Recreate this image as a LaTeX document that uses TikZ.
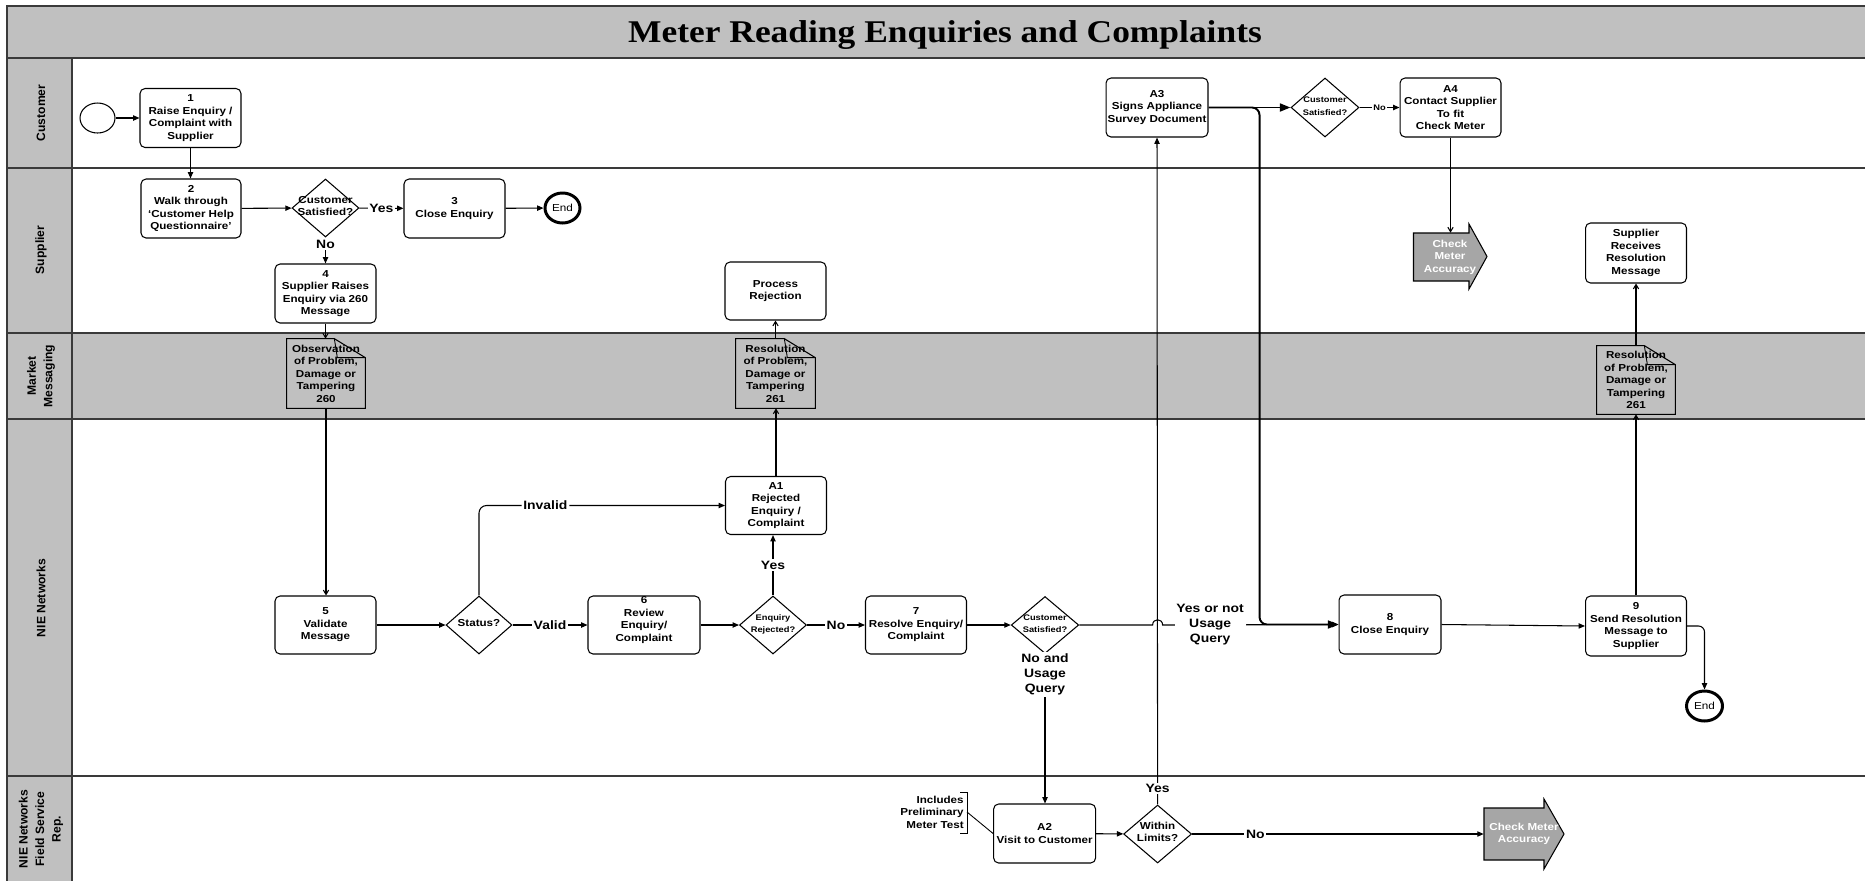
\documentclass[tikz,border=0pt]{standalone}
\usepackage{fontspec}
\setmainfont{Liberation Serif}
\newfontfamily\sfs[FakeStretch=1.15]{Liberation Sans}
\newfontfamily\sfn{Liberation Sans}
\newfontfamily\rms[FakeStretch=1.12]{Liberation Serif}
\usetikzlibrary{shapes.geometric,arrows.meta,calc}
\definecolor{lanegray}{HTML}{C0C0C0}
\definecolor{lanec}{HTML}{3A3A3A}
\definecolor{arrowgray}{HTML}{A6A6A6}
\newcommand\boxf{\sfs\bfseries\fontsize{5.75}{7.1}\selectfont}
\newcommand\smallf{\sfs\bfseries\fontsize{4.6}{5.2}\selectfont}
\newcommand\lblf{\sfs\bfseries\fontsize{6.9}{8.5}\selectfont}
\newcommand\lanef{\sfn\bfseries\fontsize{6.9}{9.4}\selectfont}
\newcommand\finfnt{\sfs\fontsize{5.8}{7}\selectfont}
\newcommand\titlef{\rms\bfseries\fontsize{18}{20}\selectfont}
\newcommand\dtext[1]{\smash{\makebox[0pt]{\raisebox{-0.3ex}{\begin{tabular}{@{}c@{}}#1\end{tabular}}}}}
\tikzset{
  lane/.style={draw=lanec, line width=1.1pt},
  box/.style={draw, rounded corners=0.1cm, fill=white, align=center, font=\boxf, inner sep=0pt, minimum width=2.02cm, minimum height=1.18cm, line width=0.6pt},
  dia/.style={diamond, draw, fill=white, inner sep=0pt, font=\boxf, minimum width=1.34cm, minimum height=1.16cm, line width=0.6pt},
  docn/.style={rectangle, fill=lanegray, align=center, font=\boxf, inner sep=0pt, minimum width=1.56cm, minimum height=1.38cm},
  docline/.style={draw, line width=0.6pt},
  circ/.style={ellipse, draw, fill=white, inner sep=0pt, minimum width=0.7cm, minimum height=0.6cm, font=\finfnt, line width=0.6pt},
  endc/.style={circ, line width=1.7pt},
  lanel/.style={rotate=90, font=\lanef, align=center},
  lbl/.style={font=\lblf, fill=white, inner sep=1pt, align=center},
  lbls/.style={font=\smallf, fill=white, inner sep=0.5pt},
  arr/.style={-{Triangle[length=3.6pt,width=3pt]}, line width=0.6pt},
  oarr/.style={-{Straight Barb[length=2.5pt,width=3pt]}, line width=0.6pt},
  tarr/.style={-{Triangle[length=6pt,width=4.5pt]}, line width=1.1pt},
  cmat/.style={font=\boxf, text=white, align=center, inner sep=0pt},
  bigarrow/.style={fill=arrowgray, draw, line width=0.6pt},
  fold/.style={line width=0.5pt},
}
\begin{document}
\begin{tikzpicture}[x=0.02cm,y=-0.02cm]
\useasboundingbox (0,0) rectangle (1865,880);
\clip (0,0) rectangle (1865,880);
% lanes
\fill[white] (0,0) rectangle (1865,880);
\fill[lanegray] (7,6) rectangle (1885,58);
\fill[lanegray] (7,58) rectangle (72,890);
\fill[lanegray] (72,333) rectangle (1885,419);
\draw[lane] (7,890) -- (7,6) -- (1885,6);
\draw[lane] (7,58) -- (1885,58);
\draw[lane] (7,168) -- (1885,168);
\draw[lane] (7,333) -- (1885,333);
\draw[lane] (7,419) -- (1885,419);
\draw[lane] (7,776) -- (1885,776);
\draw[lane] (72,58) -- (72,890);
\node[font=\titlef, anchor=base] (title) at (945,42.5) {Meter Reading Enquiries and Complaints};
\node[lanel] (lcust) at (41,113) {Customer};
\node[lanel] (lsupp) at (41,250) {Supplier};
\node[lanel] (lmkt) at (41,376) {Market\\Messaging};
\node[lanel] (lnie) at (41,598) {NIE Networks};
\node[lanel] (lfsr) at (41,829) {NIE Networks\\Field Service\\Rep.};

% Customer lane
\node[circ] (start) at (97.5,118) {};
\node[box] (b1) at (190.5,118) {1\\Raise Enquiry /\\Complaint with\\Supplier};
\node[box, minimum width=2.04cm] (a3) at (1157,107.5) {A3\\Signs Appliance\\Survey Document};
\node[dia, minimum width=1.36cm, minimum height=1.18cm] (cs2) at (1325,107.5) {\dtext{\smallf Customer\\\smallf Satisfied?}};
\node[box] (a4) at (1450.5,107.5) {A4\\Contact Supplier\\To fit\\Check Meter};

% Supplier lane
\node[box, minimum width=2cm] (b2) at (191,208.5) {2\\Walk through\\‘Customer Help\\Questionnaire’};
\node[dia] (sd1) at (325.5,208) {\dtext{Customer\\Satisfied?}};
\node[box] (b3) at (454.5,208.5) {3\\Close Enquiry};
\node[endc] (end1) at (562.5,208) {End};
\node[box] (b4) at (325.5,293.5) {4\\Supplier Raises\\Enquiry via 260\\Message};
\node[box, minimum height=1.16cm] (pr) at (775.5,291) {Process\\Rejection};
\draw[bigarrow] (1413.5,233) -- (1469,233) -- (1469,224) -- (1487,256.5) -- (1469,289) -- (1469,281) -- (1413.5,281) -- cycle;
\node[cmat, minimum width=1.46cm, minimum height=0.96cm] (cma1) at (1450,257) {Check\\Meter\\Accuracy};
\node[box, minimum height=1.2cm] (srm) at (1636,253) {Supplier\\Receives\\Resolution\\Message};

% Market messaging
\node[docn] (d260) at (326,373.5) {Observation\\of Problem,\\Damage or\\Tampering\\260};
\node[docn, minimum width=1.58cm] (d261a) at (775.5,373.5) {Resolution\\of Problem,\\Damage or\\Tampering\\261};
\node[docn, minimum height=1.36cm] (d261b) at (1636,380) {Resolution\\of Problem,\\Damage or\\Tampering\\261};
\foreach \d in {d260,d261a,d261b}{
  \draw[docline] (\d.north west) -- ($(\d.north east)+(-31,0)$) -- ($(\d.north east)+(0,19)$) -- (\d.south east) -- (\d.south west) -- cycle;
  \draw[fold] ($(\d.north east)+(-31,0)$) -- ++(3,19) -- ($(\d.north east)+(0,19)$);
}

% NIE Networks lane
\node[box, minimum height=1.16cm] (a1) at (776,505.5) {A1\\Rejected\\Enquiry /\\Complaint};
\node[box, minimum height=1.16cm] (b5) at (325.5,625) {5\\Validate\\Message};
\node[dia, minimum width=1.32cm] (st) at (479,625) {\dtext{Status?}};
\node[box, minimum width=2.24cm, minimum height=1.16cm] (b6) at (644,625) {6\\Review\\Enquiry/\\Complaint\\\mbox{}};
\node[dia] (er) at (773,625) {\dtext{\smallf Enquiry\\\smallf Rejected?}};
\node[box, minimum height=1.16cm] (b7) at (916,625) {7\\Resolve Enquiry/\\Complaint};
\node[dia, minimum width=1.35cm, minimum height=1.14cm] (cs3) at (1045,625) {\dtext{\smallf Customer\\\smallf Satisfied?}};
\node[box, minimum width=2.04cm] (b8) at (1390,624.5) {8\\Close Enquiry};
\node[box, minimum height=1.2cm] (b9) at (1636,626) {9\\Send Resolution\\Message to\\Supplier};
\node[endc, minimum width=0.72cm] (end2) at (1704.5,706) {End};

% Field service lane
\node[box, minimum width=2.04cm] (a2) at (1044.6,833.5) {A2\\Visit to Customer};
\node[dia, minimum width=1.36cm] (wl) at (1157.6,834) {\dtext{Within\\Limits?}};
\draw[bigarrow] (1484,808) -- (1544,808) -- (1544,799) -- (1564,834) -- (1544,869) -- (1544,860) -- (1484,860) -- cycle;
\node[cmat, minimum width=1.6cm, minimum height=1.04cm] (cma2) at (1524,834) {Check Meter\\Accuracy};
\node[font=\boxf, align=right, anchor=east, inner sep=0pt] (incl) at (964,812) {Includes\\Preliminary\\Meter Test};
\coordinate (brk) at ($(incl.east)+(3,0)$);
\draw[line width=0.5pt] ($(incl.east)+(-4,-20)$) -- ++(7,0) -- ++(0,41) -- ++(-7,0);
\draw[line width=0.5pt] (brk) -- (a2.west);

% connectors
\draw[arr] (start) -- (b1);
\draw[arr] (b1.south) -- (b1.south |- b2.north);
\draw[arr] (b2) -- (sd1);
\draw[arr] (sd1) -- node[lbl]{Yes} (b3);
\draw[arr] (b3) -- (end1);
\draw[arr] (sd1.south) -- node[lbl, pos=0.25]{No} (b4.north);
\draw[oarr] (b4.south) -- (b4.south |- d260.north);
\draw[oarr] (d260.south) -- (d260.south |- b5.north);
\draw[arr] (b5) -- (st);
\draw[arr] (st) -- node[lbl]{Valid} (b6);
\draw[arr, rounded corners=0.15cm] (st.north) |- node[lbl, pos=0.635]{Invalid} (a1.west);
\draw[arr] (b6) -- (er);
\draw[arr] (er.north) -- node[lbl]{Yes} (er.north |- a1.south);
\draw[oarr] (a1.north) -- (a1.north |- d261a.south);
\draw[oarr] (d261a.north) -- (d261a.north |- pr.south);
\draw[arr] (er) -- node[lbl]{No} (b7);
\draw[arr] (b7) -- (cs3);
\draw[arr] (cs3.east) -- ($(cs3.east -| wl.north)+(-5,0)$) .. controls ($(cs3.east -| wl.north)+(-5,-7)$) and ($(cs3.east -| wl.north)+(5,-7)$) .. ($(cs3.east -| wl.north)+(5,0)$) -- node[lbl, pos=0.27]{Yes or not\\Usage\\Query} (b8.west);
\draw[arr] (cs3.south) -- node[lbl, pos=0.136]{No and\\Usage\\Query} (cs3.south |- a2.north);
\draw[arr] (a2) -- (wl);
\draw[arr] (wl.north) -- node[lbl, pos=0.024]{Yes} (a3.south);
\draw[arr] (wl) -- node[lbl, pos=0.217]{No} (cma2.west);
\draw[tarr] (a3) -- (cs2);
\draw[tarr, rounded corners=0.15cm] (a3.east) -- ($(a3.east)+(51,0)$) |- (b8.west);
\draw[arr] (cs2) -- node[lbls]{No} (a4);
\draw[oarr] (a4.south) -- (a4.south |- cma1.north);
\draw[arr] (b8.east) -- (b9.west);
\draw[oarr] (b9.north) -- (d261b.south);
\draw[oarr] (d261b.north) -- (srm.south);
\draw[arr, rounded corners=0.12cm] (b9.east) -| (end2.north);
\end{tikzpicture}
\end{document}
